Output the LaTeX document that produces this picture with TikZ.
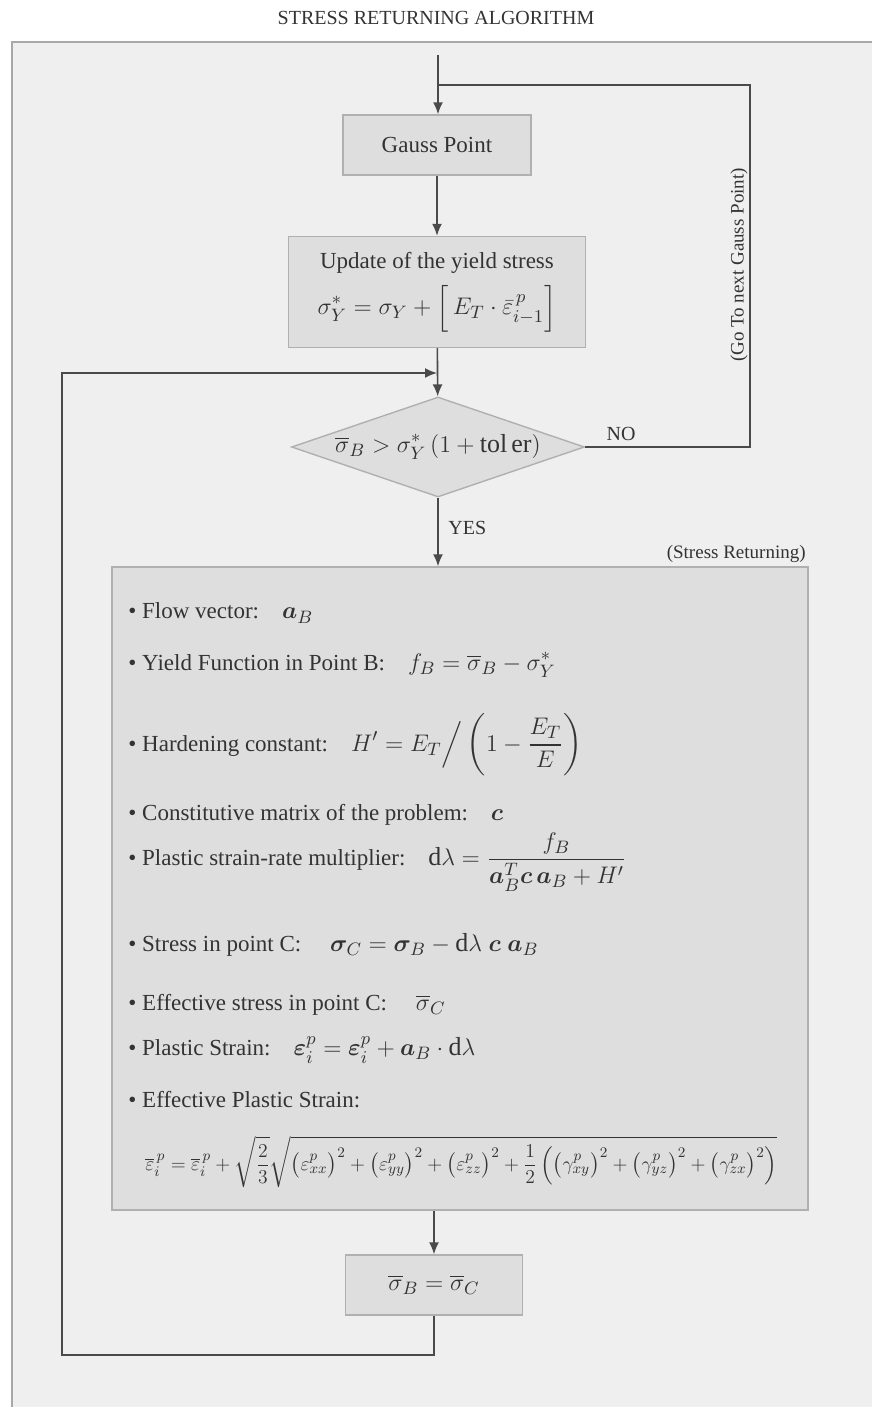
\documentclass[tikz,border=0pt]{standalone}
\usepackage{amsmath}
\usepackage{amssymb}
\usepackage{graphicx}
\usepackage{fontspec}
\setmainfont{Liberation Serif}
\usepackage{bm}
\usetikzlibrary{shapes,arrows,arrows.meta,positioning,calc}
\definecolor{framegray}{HTML}{EFEFEF}
\definecolor{frameline}{HTML}{A8A8A8}
\definecolor{boxgray}{HTML}{DEDEDE}
\definecolor{boxline}{HTML}{B0B0B0}
\definecolor{linegray}{HTML}{4A4A4A}
\definecolor{textgray}{HTML}{333333}
\newcommand{\fml}[1]{{\fontsize{13}{16}\selectfont$\displaystyle #1$}}

\begin{document}
\begin{tikzpicture}[
  x=0.5pt, y=-0.5pt,
  box/.style={draw=boxline, fill=boxgray, line width=0.7pt, align=center, inner sep=0pt, text=textgray, font=\fontsize{11.5}{16}\selectfont},
  decision/.style={diamond, draw=boxline, fill=boxgray, line width=0.7pt, inner sep=0pt, aspect=2.9, text=textgray},
  item/.style={anchor=west, inner sep=0pt, text=textgray, font=\fontsize{11.5}{14}\selectfont},
  note/.style={inner sep=1pt, text=textgray, font=\fontsize{10}{12}\selectfont},
  flow/.style={-{Latex[length=6pt,width=5pt]}, line width=0.8pt, color=linegray},
  link/.style={line width=0.8pt, color=linegray}
]
  \useasboundingbox (0,0) rectangle (872,1407);
  \fill[framegray] (12,42) rectangle (872,1407);
  \draw[frameline, line width=0.7pt] (12,1407) |- (872,42);

  \node[note] (title) at (436,18) {STRESS RETURNING ALGORITHM};

  \node[box, minimum width=94pt, minimum height=30pt] (gauss) at (437,145) {Gauss Point};
  \node[box, minimum width=148.5pt, minimum height=55.5pt] (update) at (437,292)
    {Update of the yield stress\\[5pt]
     \fml{\sigma_Y^{*} = \sigma_Y + \Big[\, E_T \cdot \bar{\varepsilon}^{\,p}_{i-1} \Big]}};
  \node[decision, minimum width=146.5pt, minimum height=50pt] (cond) at (438,447)
    {\fml{\overline{\sigma}_B > \sigma_Y^{*}\,(1+\mathrm{tol\,er})}};
  \node[box, minimum width=348pt, minimum height=321.5pt] (returning) at (460,888.5) {};
  \node[box, minimum width=88.5pt, minimum height=30pt] (result) at (434,1285)
    {\fml{\overline{\sigma}_B = \overline{\sigma}_C}};

  \node[note, anchor=south east, font=\fontsize{9.5}{11}\selectfont] (stresslabel) at (808,565) {(Stress Returning)};
  \node[note, anchor=south east] (nolabel) at (638,443) {NO};
  \node[note, anchor=west] (yeslabel) at (446,528) {YES};
  \node[note, rotate=90, font=\fontsize{9.5}{11}\selectfont] (gonext) at (739,265) {(Go To next Gauss Point)};

  \node[item] (flowvec) at (128,613) {\textbullet\ Flow vector:\quad \fml{\bm{a}_B}};
  \node[item] (yieldfn) at (128,665) {\textbullet\ Yield Function in Point B:\quad \fml{f_B = \overline{\sigma}_B - \sigma_Y^{*}}};
  \node[item] (harden) at (128,745) {\textbullet\ Hardening constant:\quad \fml{H' = E_T \Big/ \left(1-\frac{E_T}{E}\right)}};
  \node[item] (constit) at (128,815) {\textbullet\ Constitutive matrix of the problem:\quad \fml{\bm{c}}};
  \node[item] (multip) at (128,862) {\textbullet\ Plastic strain-rate multiplier:\quad \fml{\mathrm{d}\lambda = \frac{f_B}{\bm{a}_B^{T}\bm{c}\,\bm{a}_B + H'}}};
  \node[item] (stressc) at (128,945) {\textbullet\ Stress in point C:\quad\ \fml{\bm{\sigma}_C = \bm{\sigma}_B - \mathrm{d}\lambda\ \bm{c}\ \bm{a}_B}};
  \node[item] (effstress) at (128,1005) {\textbullet\ Effective stress in point C:\quad\ \fml{\overline{\sigma}_C}};
  \node[item] (plstrain) at (128,1050) {\textbullet\ Plastic Strain:\quad \fml{\bm{\varepsilon}_i^{p} = \bm{\varepsilon}_i^{p} + \bm{a}_B \cdot \mathrm{d}\lambda}};
  \node[item] (effplastic) at (128,1100) {\textbullet\ Effective Plastic Strain:};
  \node[item] (effformula) at (145,1162)
    {\resizebox{316pt}{!}{\fml{\overline{\varepsilon}_i^{\,p} = \overline{\varepsilon}_i^{\,p} + \sqrt{\frac{2}{3}}\sqrt{\left(\varepsilon^p_{xx}\right)^2 + \left(\varepsilon^p_{yy}\right)^2 + \left(\varepsilon^p_{zz}\right)^2 + \frac{1}{2}\left(\left(\gamma^p_{xy}\right)^2 + \left(\gamma^p_{yz}\right)^2 + \left(\gamma^p_{zx}\right)^2\right)}}}};

  \coordinate (start) at (438,55);
  \coordinate (rettop) at (438,85);
  \coordinate (retcorner) at (750,85);
  \coordinate (join) at (437,373);
  \coordinate (loopcorner) at (62,1355);

  \draw[flow] (start) -- (start |- gauss.north);
  \draw[flow] (gauss) -- (update);
  \draw[flow] (update) -- (cond);
  \draw[flow] (cond.south) -- (cond.south |- returning.north);
  \draw[flow] (result.north |- returning.south) -- (result.north);
  \draw[link] (cond.east) -| (retcorner) -- (rettop);
  \draw[flow] (result.south) |- (loopcorner) |- (join);
\end{tikzpicture}
\end{document}
